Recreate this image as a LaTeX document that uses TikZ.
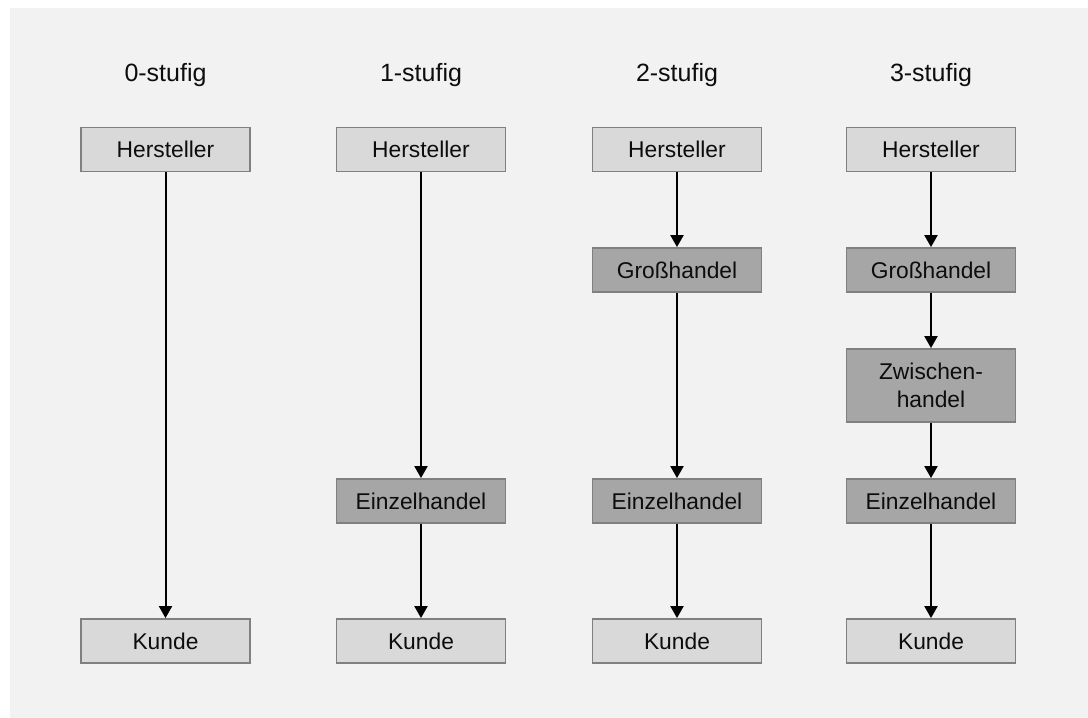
\documentclass[tikz,border=0pt]{standalone}
\usepackage{fontspec}
\setmainfont{Liberation Sans}
\usetikzlibrary{arrows.meta}
\definecolor{panel}{HTML}{F2F2F2}
\definecolor{boxlight}{HTML}{D9D9D9}
\definecolor{boxdark}{HTML}{A6A6A6}
\definecolor{boxline}{HTML}{808080}
\definecolor{ink}{HTML}{0D0D0D}
\tikzset{
  stage/.style={draw=boxline, line width=1.8bp, minimum width=169bp, minimum height=44bp,
    inner sep=0pt, align=center, text=ink, font=\fontsize{22.8bp}{28bp}\selectfont},
  endbox/.style={stage, fill=boxlight},
  midbox/.style={stage, fill=boxdark},
  heading/.style={text=ink, font=\fontsize{25bp}{30bp}\selectfont},
  flow/.style={line width=2bp, black, -{Triangle[width=13bp,length=12bp]}}
}
\begin{document}
\begin{tikzpicture}[x=1bp,y=-1bp]
  \useasboundingbox (0,0) rectangle (1088,718);
  \fill[white] (0,0) rectangle (1088,718);
  \fill[panel] (10,8) rectangle (1088,718);

  % column headings
  \node[heading] (t0) at (165.5,75) {0-stufig};
  \node[heading] (t1) at (421,75) {1-stufig};
  \node[heading] (t2) at (677,75) {2-stufig};
  \node[heading] (t3) at (931,75) {3-stufig};

  % 0-stufig
  \node[endbox] (h0) at (165.5,149.5) {Hersteller};
  \node[endbox] (k0) at (165.5,641) {Kunde};
  \draw[flow] (h0) -- (k0);

  % 1-stufig
  \node[endbox] (h1) at (421,149.5) {Hersteller};
  \node[midbox] (e1) at (421,501) {Einzelhandel};
  \node[endbox] (k1) at (421,641) {Kunde};
  \draw[flow] (h1) -- (e1);
  \draw[flow] (e1) -- (k1);

  % 2-stufig
  \node[endbox] (h2) at (677,149.5) {Hersteller};
  \node[midbox] (g2) at (677,270) {Großhandel};
  \node[midbox] (e2) at (677,501) {Einzelhandel};
  \node[endbox] (k2) at (677,641) {Kunde};
  \draw[flow] (h2) -- (g2);
  \draw[flow] (g2) -- (e2);
  \draw[flow] (e2) -- (k2);

  % 3-stufig
  \node[endbox] (h3) at (931,149.5) {Hersteller};
  \node[midbox] (g3) at (931,270) {Großhandel};
  \node[midbox, minimum height=73bp] (z3) at (931,385.5) {Zwischen-\\handel};
  \node[midbox] (e3) at (931,501) {Einzelhandel};
  \node[endbox] (k3) at (931,641) {Kunde};
  \draw[flow] (h3) -- (g3);
  \draw[flow] (g3) -- (z3);
  \draw[flow] (z3) -- (e3);
  \draw[flow] (e3) -- (k3);
\end{tikzpicture}
\end{document}
